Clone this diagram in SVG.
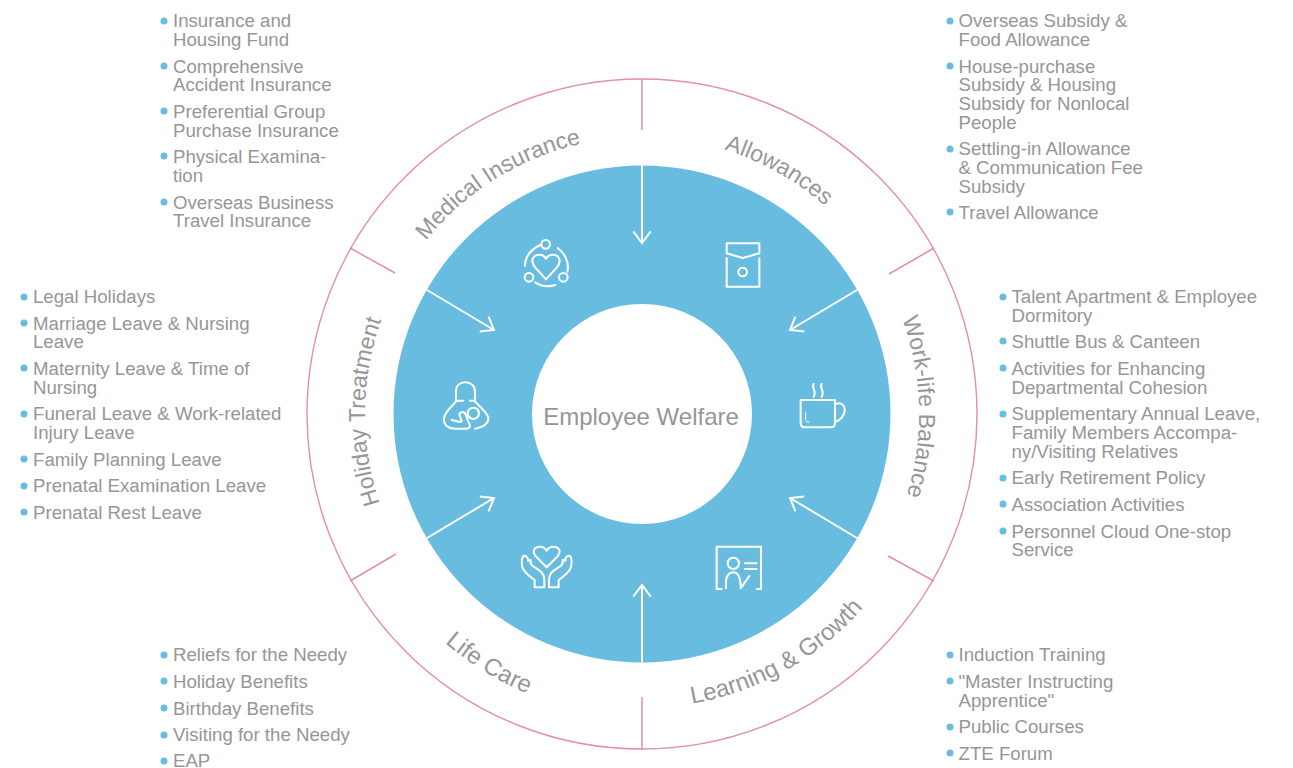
<svg xmlns="http://www.w3.org/2000/svg" width="1293" height="768" viewBox="0 0 1293 768">
<style>
text{font-family:"Liberation Sans",Arial,sans-serif;fill:#969696}
.li{font-size:18.65px}
.lab{font-size:23px}
.lab2{font-size:24px}
.b{fill:#67bce0}
.ic{fill:none;stroke:#fff;stroke-width:6.2;stroke-linecap:round;stroke-linejoin:round}
.div{stroke:#e28fab;stroke-width:1.5;fill:none}
.arr{stroke:#fff;stroke-width:2;fill:none;marker-end:url(#h)}
</style>
<defs>
<marker id="h" markerUnits="userSpaceOnUse" markerWidth="24" markerHeight="24" refX="12" refY="12" orient="auto" viewBox="0 0 24 24"><path d="M0.5,3.3 L12,12 L0.5,20.7" fill="none" stroke="#fff" stroke-width="2"/></marker>
<path id="pA" d="M503.500,174.100 A277,277 0 0 1 919,414"/>
<path id="pM" d="M365,414 A277,277 0 0 1 780.500,174.100"/>
<path id="pW" d="M780.500,174.100 A277,277 0 0 1 780.500,653.900"/>
<path id="pH" d="M503.500,653.900 A277,277 0 0 1 503.500,174.100"/>
<path id="pL" d="M495,668.600 A294,294 0 0 0 936,414"/>
<path id="pC" d="M340,414 A302,302 0 0 0 793,675.500"/>
</defs>
<g id="wheel">
<circle cx="642" cy="414" r="335" fill="#fff" stroke="#e28fab" stroke-width="1.4"/>
<circle cx="642" cy="414" r="248.500" fill="#67bce0"/>
<circle cx="642" cy="414" r="110" fill="#fff"/>
</g>
<g id="connectors">
<path class="div" d="M642,79V130M934,248L889,274M934,581L888,556M642,697V750M350,581L396,554M350,248L395,273"/>
<path class="arr" d="M642,165V243"/>
<path class="arr" d="M857,290L790,330"/>
<path class="arr" d="M857,538L790,498"/>
<path class="arr" d="M642,662V585"/>
<path class="arr" d="M427,538L494,498"/>
<path class="arr" d="M427,290L494,330"/>
</g>
<g id="center"><text x="641" y="425" style="font-size:24px" text-anchor="middle">Employee Welfare</text></g>
<g id="medical">
<text class="lab" text-anchor="middle" transform="rotate(-2 642 414)"><textPath href="#pM" startOffset="50%">Medical Insurance</textPath></text>
<g transform="translate(500,220) scale(.3333)"><circle class="ic" cx="137" cy="73" r="13"/><circle class="ic" cx="87" cy="172" r="13"/><circle class="ic" cx="190" cy="172" r="13"/><path class="ic" d="M120,76C95,86 76,108 75,137M173,84C196,100 208,130 202,155M105,187C125,200 145,201 166,195M138,178L106,143C88,122 100,104 118,104C127,104 134,109 138,116C142,109 149,104 158,104C176,104 188,122 170,143Z"/></g>
<g>
<circle class="b" cx="164" cy="21" r="3.500"/><text class="li" x="173" y="27">Insurance and</text><text class="li" x="173" y="46">Housing Fund</text>
<circle class="b" cx="164" cy="66" r="3.500"/><text class="li" x="173" y="73">Comprehensive</text><text class="li" x="173" y="91">Accident Insurance</text>
<circle class="b" cx="164" cy="111" r="3.500"/><text class="li" x="173" y="118">Preferential Group</text><text class="li" x="173" y="137">Purchase Insurance</text>
<circle class="b" cx="164" cy="156" r="3.500"/><text class="li" x="173" y="163">Physical Examina-</text><text class="li" x="173" y="182">tion</text>
<circle class="b" cx="164" cy="202" r="3.500"/><text class="li" x="173" y="209">Overseas Business</text><text class="li" x="173" y="227">Travel Insurance</text>
</g>
</g>
<g id="allowances">
<text class="lab" text-anchor="middle" transform="rotate(-0.7 642 414)"><textPath href="#pA" startOffset="50%">Allowances</textPath></text>
<g transform="translate(700,220) scale(.3333)"><path class="ic" d="M80,70H178V100L128,114L80,100ZM80,114V200H178V114"/><circle class="ic" cx="128" cy="156" r="13"/></g>
<g>
<circle class="b" cx="950" cy="21" r="3.500"/><text class="li" x="958.500" y="27">Overseas Subsidy &amp;</text><text class="li" x="958.500" y="46">Food Allowance</text>
<circle class="b" cx="950" cy="66" r="3.500"/><text class="li" x="958.500" y="73">House-purchase</text><text class="li" x="958.500" y="91">Subsidy &amp; Housing</text><text class="li" x="958.500" y="110">Subsidy for Nonlocal</text><text class="li" x="958.500" y="129">People</text>
<circle class="b" cx="950" cy="149" r="3.500"/><text class="li" x="958.500" y="155">Settling-in Allowance</text><text class="li" x="958.500" y="174">&amp; Communication Fee</text><text class="li" x="958.500" y="193">Subsidy</text>
<circle class="b" cx="950" cy="212" r="3.500"/><text class="li" x="958.500" y="219">Travel Allowance</text>
</g>
</g>
<g id="worklife">
<text class="lab" text-anchor="middle" transform="rotate(-1.5 642 414)"><textPath href="#pW" startOffset="50%">Work-life Balance</textPath></text>
<g transform="translate(780,370) scale(.3333)"><path class="ic" d="M62,90H165V160Q165,172 153,172H74Q62,172 62,160ZM165,103C190,92 200,115 190,135C182,150 172,154 165,155M101,42C92,52 112,62 101,80M125,42C116,52 136,62 125,80"/><path d="M77,125V148Q77,157 88,157" fill="none" stroke="#fff" stroke-width="3"/></g>
<g>
<circle class="b" cx="1003" cy="297" r="3.500"/><text class="li" x="1011.500" y="303">Talent Apartment &amp; Employee</text><text class="li" x="1011.500" y="322">Dormitory</text>
<circle class="b" cx="1003" cy="341" r="3.500"/><text class="li" x="1011.500" y="348">Shuttle Bus &amp; Canteen</text>
<circle class="b" cx="1003" cy="368" r="3.500"/><text class="li" x="1011.500" y="375">Activities for Enhancing</text><text class="li" x="1011.500" y="394">Departmental Cohesion</text>
<circle class="b" cx="1003" cy="414" r="3.500"/><text class="li" x="1011.500" y="420">Supplementary Annual Leave,</text><text class="li" x="1011.500" y="439">Family Members Accompa-</text><text class="li" x="1011.500" y="458">ny/Visiting Relatives</text>
<circle class="b" cx="1003" cy="478" r="3.500"/><text class="li" x="1011.500" y="484">Early Retirement Policy</text>
<circle class="b" cx="1003" cy="504" r="3.500"/><text class="li" x="1011.500" y="511">Association Activities</text>
<circle class="b" cx="1003" cy="531" r="3.500"/><text class="li" x="1011.500" y="538">Personnel Cloud One-stop</text><text class="li" x="1011.500" y="556">Service</text>
</g>
</g>
<g id="learning">
<text class="lab2" text-anchor="middle" transform="rotate(0.7 642 414)"><textPath href="#pL" startOffset="50%">Learning &amp; Growth</textPath></text>
<g transform="translate(700,530) scale(.3333)"><path class="ic" d="M65,177H50V50H183V177H170M135,100H170M135,117H170M78,175V155C78,135 90,127 100,127C115,127 122,140 122,175L148,138"/><circle class="ic" cx="100" cy="100" r="17"/></g>
<g>
<circle class="b" cx="950" cy="655" r="3.500"/><text class="li" x="958.500" y="661">Induction Training</text>
<circle class="b" cx="950" cy="681" r="3.500"/><text class="li" x="958.500" y="688">"Master Instructing</text><text class="li" x="958.500" y="707">Apprentice"</text>
<circle class="b" cx="950" cy="727" r="3.500"/><text class="li" x="958.500" y="733">Public Courses</text>
<circle class="b" cx="950" cy="753" r="3.500"/><text class="li" x="958.500" y="760">ZTE Forum</text>
</g>
</g>
<g id="lifecare">
<text class="lab2" text-anchor="middle" transform="rotate(1.5 642 414)"><textPath href="#pC" startOffset="50%">Life Care</textPath></text>
<g transform="translate(500,530) scale(.3333)"><path class="ic" d="M140,112L110,82C92,62 105,50 120,50C130,50 136,55 140,62C144,55 150,50 160,50C175,50 188,62 170,82ZM104,172H133V148C133,130 120,122 106,113C95,108 90,100 92,90L84,92C86,85 78,75 70,78C64,85 65,100 67,112C72,125 90,140 104,150ZM176,172H147V148C147,130 160,122 174,113C185,108 190,100 188,90L196,92C194,85 202,75 210,78C216,85 215,100 213,112C208,125 190,140 176,150Z"/></g>
<g>
<circle class="b" cx="164" cy="655" r="3.500"/><text class="li" x="173" y="661">Reliefs for the Needy</text>
<circle class="b" cx="164" cy="681" r="3.500"/><text class="li" x="173" y="688">Holiday Benefits</text>
<circle class="b" cx="164" cy="708" r="3.500"/><text class="li" x="173" y="715">Birthday Benefits</text>
<circle class="b" cx="164" cy="735" r="3.500"/><text class="li" x="173" y="741">Visiting for the Needy</text>
<circle class="b" cx="164" cy="761" r="3.500"/><text class="li" x="173" y="767">EAP</text>
</g>
</g>
<g id="holiday">
<text class="lab" text-anchor="middle" transform="rotate(0.5 642 414)"><textPath href="#pH" startOffset="50%">Holiday Treatment</textPath></text>
<g transform="translate(420,370) scale(.3333)"><path class="ic" d="M130,92H108V65C108,47 120,37 136,37C152,37 165,47 165,65V92H150M108,95C95,110 75,125 72,145C70,165 85,176 105,176H138C148,176 153,170 148,160C140,150 142,140 135,130C130,125 120,125 118,132C118,140 128,150 124,155C115,157 105,152 95,150M165,95C180,110 200,125 205,143C207,160 190,172 165,176"/><circle class="ic" cx="160" cy="130" r="17"/></g>
<g>
<circle class="b" cx="24" cy="297" r="3.500"/><text class="li" x="33" y="303">Legal Holidays</text>
<circle class="b" cx="24" cy="323" r="3.500"/><text class="li" x="33" y="330">Marriage Leave &amp; Nursing</text><text class="li" x="33" y="348">Leave</text>
<circle class="b" cx="24" cy="368" r="3.500"/><text class="li" x="33" y="375">Maternity Leave &amp; Time of</text><text class="li" x="33" y="394">Nursing</text>
<circle class="b" cx="24" cy="414" r="3.500"/><text class="li" x="33" y="420">Funeral Leave &amp; Work-related</text><text class="li" x="33" y="439">Injury Leave</text>
<circle class="b" cx="24" cy="459" r="3.500"/><text class="li" x="33" y="466">Family Planning Leave</text>
<circle class="b" cx="24" cy="486" r="3.500"/><text class="li" x="33" y="492">Prenatal Examination Leave</text>
<circle class="b" cx="24" cy="512" r="3.500"/><text class="li" x="33" y="519">Prenatal Rest Leave</text>
</g>
</g>
</svg>
